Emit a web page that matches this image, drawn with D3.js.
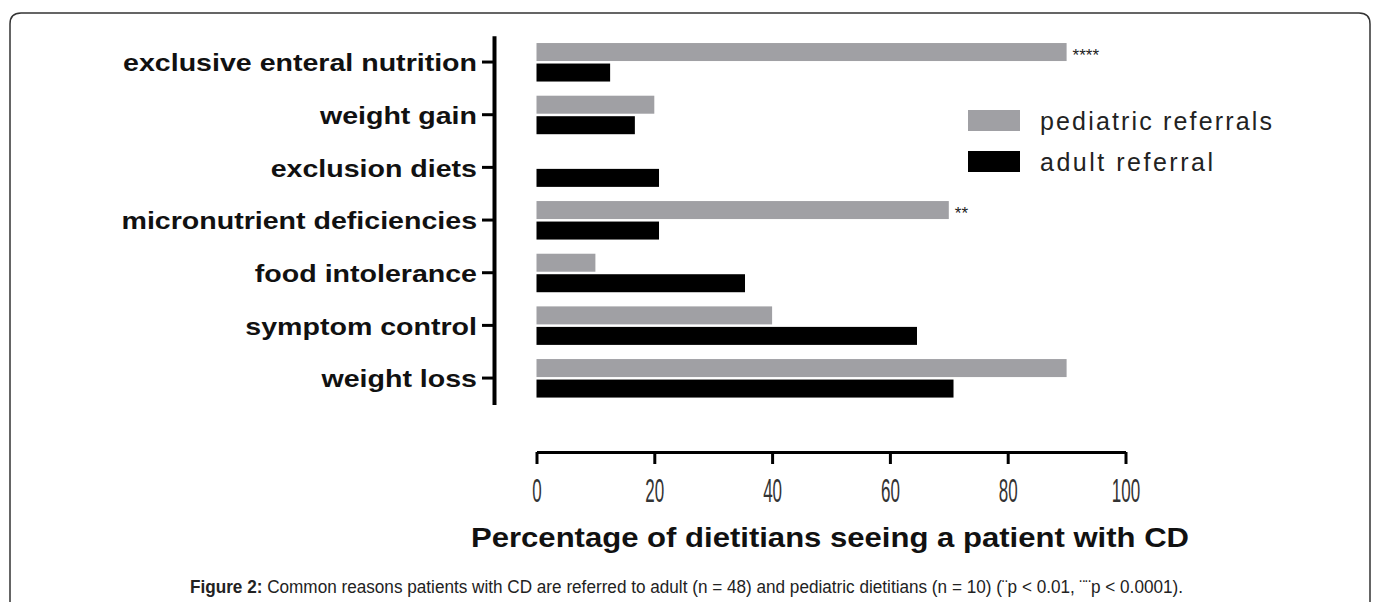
<!DOCTYPE html>
<html><head><meta charset="utf-8">
<script src="https://cdn.jsdelivr.net/npm/d3@7"></script>
<style>html,body{margin:0;padding:0;background:#fff;}svg{display:block;}</style>
</head><body>
<svg id="chart" width="1373" height="602"></svg>
<script>
const categories = ["exclusive enteral nutrition","weight gain","exclusion diets","micronutrient deficiencies","food intolerance","symptom control","weight loss"];
const pediatric = [90, 20, 0, 70, 10, 40, 90];
const adult = [12.5, 16.7, 20.8, 20.8, 35.4, 64.6, 70.8];
const significance = ["****", "", "", "**", "", "", ""];
const seriesNames = ["pediatric referrals", "adult referral"];
const xTicks = [0, 20, 40, 60, 80, 100];
const xTitle = "Percentage of dietitians seeing a patient with CD";
const captionBold = "Figure 2:";
const captionText = " Common reasons patients with CD are referred to adult (n = 48) and pediatric dietitians (n = 10) (¨p < 0.01, ¨¨p < 0.0001).";

const svg = d3.select("#chart");
const grey = "#a0a0a4";
const FONT = "Liberation Sans, Arial, sans-serif";

// frame
svg.append("path")
  .attr("d", "M10,620 L10,24 Q10,13 21,13 L1359,13 Q1370,13 1370,24 L1370,620")
  .attr("fill","none").attr("stroke","#333").attr("stroke-width",1.5);

const x = d3.scaleLinear().domain([0,100]).range([536.5,1125.5]);
const y = d3.scaleBand().domain(categories).range([35.7,404.4]);

// bars
const g = svg.append("g");
const barH = 18;
categories.forEach((c,i)=>{
  const cy = y(c) + y.bandwidth()/2;
  if (pediatric[i] > 0)
    g.append("rect").attr("x",x(0)).attr("y",cy-19).attr("width",x(pediatric[i])-x(0)).attr("height",barH).attr("fill",grey);
  g.append("rect").attr("x",x(0)).attr("y",cy+1.5).attr("width",x(adult[i])-x(0)).attr("height",barH).attr("fill","#000");
  if (significance[i])
    g.append("text").attr("x",x(pediatric[i])+6).attr("y",cy-1).text(significance[i])
      .attr("font-family",FONT).attr("font-size",17).attr("fill","#222");
});

// y axis
const yAxis = svg.append("g").attr("transform","translate(494,0)")
  .call(d3.axisLeft(y).tickSize(12).tickSizeOuter(0).tickPadding(5));
yAxis.select(".domain").attr("stroke","#000").attr("stroke-width",4);
yAxis.selectAll(".tick line").attr("stroke","#000").attr("stroke-width",3);
yAxis.selectAll(".tick text").attr("font-family",FONT)
  .attr("font-weight","bold").attr("font-size",24).attr("fill","#111").attr("dy","0.38em")
  .each(function(){
    const w = this.getComputedTextLength();
    d3.select(this).attr("textLength", w*1.19).attr("lengthAdjust","spacingAndGlyphs");
  });

// x axis
const xAxis = svg.append("g").attr("transform","translate(0,452)")
  .call(d3.axisBottom(x).tickValues(xTicks).tickSize(12).tickSizeOuter(0).tickPadding(10));
xAxis.select(".domain").attr("stroke","#000").attr("stroke-width",3);
xAxis.selectAll(".tick line").attr("stroke","#000").attr("stroke-width",3);
xAxis.selectAll(".tick text").attr("font-family",FONT)
  .attr("font-size",34).attr("fill","#333").attr("y",26).attr("dy","0.71em")
  .each(function(){
    const w = this.getComputedTextLength();
    d3.select(this).attr("textLength", w*0.5).attr("lengthAdjust","spacingAndGlyphs");
  });

// x title
svg.append("text").attr("x",830).attr("y",547).attr("text-anchor","middle")
  .attr("font-family",FONT).attr("font-weight","bold")
  .attr("font-size",27).attr("fill","#111").attr("textLength",718).attr("lengthAdjust","spacingAndGlyphs")
  .text(xTitle);

// legend
const legend = svg.append("g");
const lColors = [grey, "#000"];
seriesNames.forEach((n,i)=>{
  legend.append("rect").attr("x",968).attr("y",110+i*41).attr("width",52).attr("height",21).attr("fill",lColors[i]);
  legend.append("text").attr("x",1040).attr("y",130+i*41).text(n)
    .attr("font-family",FONT).attr("font-size",25).attr("fill","#222")
    .attr("textLength", i===0 ? 232 : 173).attr("lengthAdjust","spacing");
});

// caption
const cap = svg.append("text").attr("x",190).attr("y",593)
  .attr("font-family",FONT).attr("font-size",17.5).attr("fill","#222")
  .attr("textLength",993).attr("lengthAdjust","spacingAndGlyphs");
cap.append("tspan").attr("font-weight","bold").text(captionBold);
cap.append("tspan").text(captionText);
</script>
</body></html>
